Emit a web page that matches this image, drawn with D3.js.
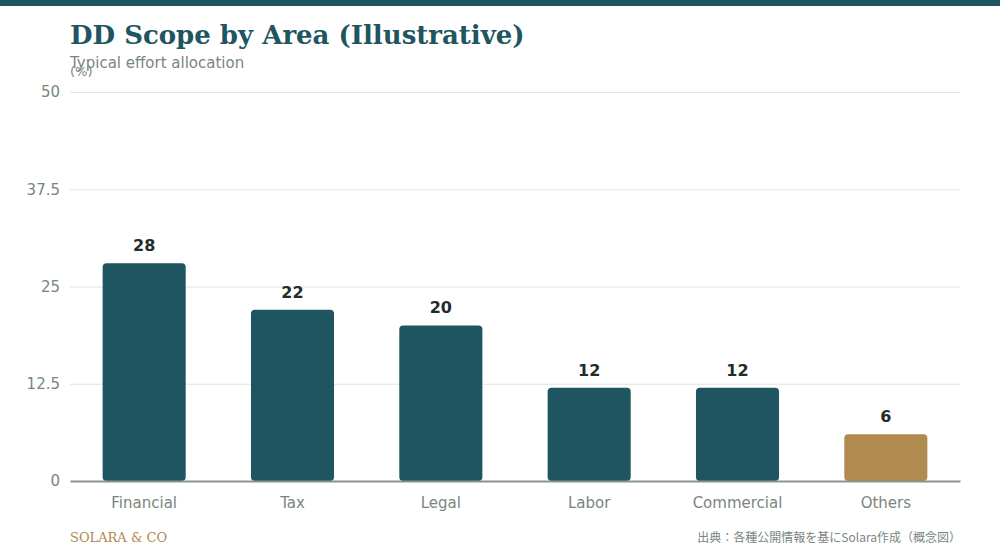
<!DOCTYPE html>
<html>
<head>
<meta charset="utf-8">
<script src="https://cdn.jsdelivr.net/npm/d3@7"></script>
<style>
  body { margin: 0; background: #fff; }
  svg { display: block; }
</style>
</head>
<body>
<div id="chart"></div>
<script>
// Data
const categories = ['Financial', 'Tax', 'Legal', 'Labor', 'Commercial', 'Others'];
const values = [28, 22, 20, 12, 12, 6];
const yTicks = [0, 12.5, 25, 37.5, 50];

function draw() {
    const dimensions = {
        width: 1000,
        height: 560,
        left: 70,
        right: 960,
        top: 92,
        bottom: 481
    }

    const teal = '#1f5560';
    const gold = '#b08a4e';

    const svg = d3.select('#chart')
        .append('svg')
        .attr('width', dimensions.width)
        .attr('height', dimensions.height);

    // top strip
    svg.append('rect')
        .attr('x', 0).attr('y', 0)
        .attr('width', dimensions.width).attr('height', 6)
        .attr('fill', teal);

    // Scales
    const x = d3.scaleBand()
        .domain(categories)
        .range([dimensions.left, dimensions.right])
        .paddingInner(0.44)
        .paddingOuter(0.22);

    const y = d3.scaleLinear()
        .domain([0, 50])
        .range([dimensions.bottom, dimensions.top]);

    // Grid
    const yAxis = d3.axisLeft(y)
        .tickValues(yTicks)
        .tickSize(-(dimensions.right - dimensions.left))
        .tickPadding(10)
        .tickFormat(d => d);

    const gy = svg.append('g')
        .attr('transform', `translate(${dimensions.left},0)`)
        .call(yAxis);
    gy.select('.domain').remove();
    gy.selectAll('.tick line').attr('stroke', '#e8e3da').attr('stroke-width', 1);
    gy.selectAll('.tick text')
        .attr('fill', '#7a8580')
        .style('font-family', '"DejaVu Sans", sans-serif')
        .style('font-size', '15px');

    // Bars
    const data = categories.map((c, i) => ({ cat: c, value: values[i] }));

    svg.append('g')
        .selectAll('rect')
        .data(data)
        .join('rect')
        .attr('x', d => x(d.cat))
        .attr('y', d => y(d.value))
        .attr('width', x.bandwidth())
        .attr('height', d => y(0) - y(d.value))
        .attr('rx', 4)
        .attr('fill', d => d.cat === 'Others' ? gold : teal);

    // Value labels
    svg.append('g')
        .selectAll('text')
        .data(data)
        .join('text')
        .attr('x', d => x(d.cat) + x.bandwidth() / 2)
        .attr('y', d => y(d.value) - 12)
        .attr('text-anchor', 'middle')
        .attr('fill', '#1f2d2d')
        .style('font-family', '"DejaVu Sans", sans-serif')
        .style('font-size', '16px')
        .style('font-weight', 'bold')
        .text(d => d.value);

    // Baseline + x axis
    const gx = svg.append('g')
        .attr('transform', `translate(0,${dimensions.bottom})`)
        .call(d3.axisBottom(x).tickSize(0).tickPadding(16));
    gx.select('.domain').attr('stroke', '#8a948c').attr('stroke-width', 2);
    gx.selectAll('.tick text')
        .attr('fill', '#7a8580')
        .style('font-family', '"DejaVu Sans", sans-serif')
        .style('font-size', '15px');

    // Titles
    svg.append('text')
        .attr('x', 70).attr('y', 44)
        .attr('fill', teal)
        .style('font-family', '"DejaVu Serif", serif')
        .style('font-size', '26px')
        .style('font-weight', 'bold')
        .text('DD Scope by Area (Illustrative)');

    svg.append('text')
        .attr('x', 70).attr('y', 68)
        .attr('fill', '#7a8580')
        .style('font-family', '"DejaVu Sans", sans-serif')
        .style('font-size', '15px')
        .text('Typical effort allocation');

    svg.append('text')
        .attr('x', 70).attr('y', 76)
        .attr('fill', '#7a8580')
        .style('font-family', '"DejaVu Sans", sans-serif')
        .style('font-size', '13px')
        .text('(%)');

    // Footer
    svg.append('text')
        .attr('x', 70).attr('y', 542)
        .attr('fill', gold)
        .style('font-family', '"DejaVu Serif", serif')
        .style('font-size', '13px')
        .text('SOLARA & CO');

    svg.append('text')
        .attr('x', 961).attr('y', 542)
        .attr('text-anchor', 'end')
        .attr('fill', '#7a8580')
        .style('font-family', '"Noto Sans CJK JP", "DejaVu Sans", sans-serif')
        .style('font-size', '12px')
        .text('出典：各種公開情報を基にSolara作成（概念図）');
}

draw();
</script>
</body>
</html>
